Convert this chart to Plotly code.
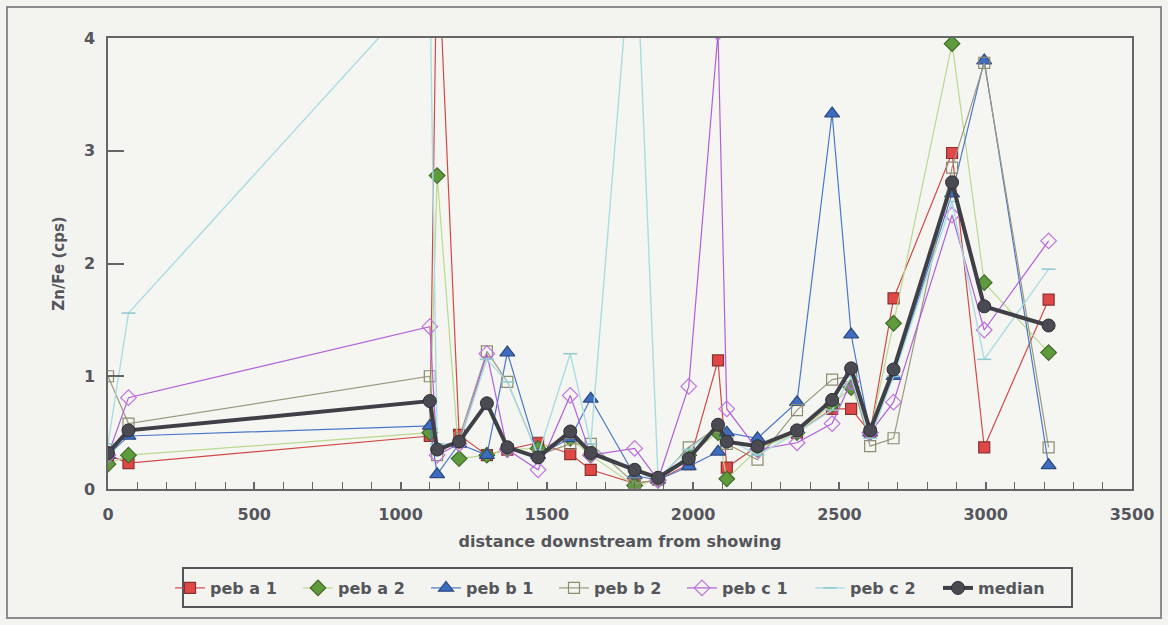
import plotly.graph_objects as go

# Sampling distances (m downstream from the showing)
distance = [0, 70, 1100, 1125, 1200, 1295, 1365, 1470, 1580, 1650, 1800, 1880,
            1985, 2085, 2115, 2220, 2355, 2475, 2540, 2605, 2685, 2885, 2995, 3215]

# Zn/Fe ratios (cps) per pebble fraction
peb_a1 = [0.30, 0.23, 0.47, 5.00, 0.48, 0.30, 0.35, 0.41, 0.31, 0.17, 0.05, 0.08,
          0.22, 1.14, 0.19, 0.38, 0.50, 0.71, 0.71, 0.50, 1.69, 2.98, 0.37, 1.68]
peb_a2 = [0.22, 0.30, 0.50, 2.78, 0.27, 0.30, 0.35, 0.36, 0.45, 0.30, 0.03, 0.08,
          0.30, 0.50, 0.09, 0.35, 0.50, 0.75, 0.90, 0.50, 1.47, 3.95, 1.83, 1.21]
peb_b1 = [0.30, 0.47, 0.56, 0.13, 0.40, 0.30, 1.21, 0.30, 0.45, 0.80, 0.12, 0.08,
          0.20, 0.33, 0.50, 0.45, 0.77, 3.33, 1.37, 0.50, 1.00, 2.62, 3.80, 0.21]
peb_b2 = [1.00, 0.58, 1.00, 0.30, 0.45, 1.22, 0.95, 0.30, 0.40, 0.40, 0.05, 0.08,
          0.37, 0.55, 0.40, 0.26, 0.70, 0.97, 1.00, 0.38, 0.45, 2.85, 3.78, 0.37]
peb_c1 = [0.30, 0.81, 1.44, 0.30, 0.40, 1.20, 0.35, 0.17, 0.83, 0.30, 0.36, 0.08,
          0.91, 4.05, 0.71, 0.35, 0.41, 0.58, 0.95, 0.50, 0.77, 2.43, 1.41, 2.20]
peb_c2 = [0.40, 1.56, 4.50, 0.40, 0.40, 1.15, 0.95, 0.30, 1.20, 0.40, 5.20, 0.10,
          0.35, 0.55, 0.45, 0.30, 0.50, 0.70, 1.00, 0.45, 1.00, 2.55, 1.15, 1.95]
median = [0.32, 0.52, 0.78, 0.35, 0.42, 0.76, 0.37, 0.28, 0.51, 0.32, 0.17, 0.10,
          0.27, 0.57, 0.42, 0.38, 0.52, 0.79, 1.07, 0.52, 1.06, 2.72, 1.62, 1.45]

series_names = ["peb a 1", "peb a 2", "peb b 1", "peb b 2", "peb c 1", "peb c 2", "median"]
series_values = [peb_a1, peb_a2, peb_b1, peb_b2, peb_c1, peb_c2, median]

styles = [
    dict(line=dict(color="#d04a4a", width=1.2),
         marker=dict(symbol="square", size=11, color="#e04848",
                     line=dict(color="#8a3030", width=1.2))),
    dict(line=dict(color="#b9d98f", width=1.2),
         marker=dict(symbol="diamond", size=12, color="#5f9a3c",
                     line=dict(color="#3f6a2a", width=1.2))),
    dict(line=dict(color="#4a78c8", width=1.2),
         marker=dict(symbol="triangle-up", size=13, color="#3d6cc0",
                     line=dict(color="#2c4a80", width=1.2))),
    dict(line=dict(color="#9a9a80", width=1.2),
         marker=dict(symbol="square-open", size=11, color="#8c8c72",
                     line=dict(width=1.2))),
    dict(line=dict(color="#b060d8", width=1.2),
         marker=dict(symbol="diamond-open", size=12, color="#c070e0",
                     line=dict(width=1.2))),
    dict(line=dict(color="#a9dde2", width=1.4),
         marker=dict(symbol="line-ew", size=10, color="#8fc8cf",
                     line=dict(color="#8fc8cf", width=1.5))),
    dict(line=dict(color="#3f3f47", width=4),
         marker=dict(symbol="circle", size=13, color="#4a4a52",
                     line=dict(color="#2f2f35", width=1))),
]

fig = go.Figure()
for name, vals, st in zip(series_names, series_values, styles):
    fig.add_trace(go.Scatter(x=distance, y=vals, name=name, mode="lines+markers",
                             line=st["line"], marker=st["marker"], cliponaxis=True))

font_family = "DejaVu Sans, Verdana, sans-serif"
grey = "#55555c"

# plot area spans 108..1132 px horizontally and 38..489 px vertically
def px_x(p):
    return (p - 108) / 1024.0

def px_y(p):
    return (489 - p) / 451.0

fig.update_layout(
    width=1168, height=625,
    margin=dict(l=108, r=36, t=38, b=136),
    paper_bgcolor="#f3f4ef",
    plot_bgcolor="#f5f6f1",
    font=dict(family=font_family, size=16, color=grey, weight="bold"),
    showlegend=True,
    legend=dict(
        orientation="h", x=px_x(170), y=px_y(588), xanchor="left", yanchor="middle",
        bgcolor="rgba(0,0,0,0)", borderwidth=0,
        font=dict(family=font_family, size=16, color=grey, weight="bold"),
        itemwidth=30, entrywidth=83, entrywidthmode="pixels",
        tracegroupgap=0,
    ),
    shapes=[
        # outer chart border
        dict(type="rect", xref="paper", yref="paper",
             x0=px_x(7), x1=px_x(1161), y0=px_y(618), y1=px_y(7),
             line=dict(color="#8c8c90", width=2), fillcolor="rgba(0,0,0,0)",
             layer="below"),
        # legend box
        dict(type="rect", xref="paper", yref="paper",
             x0=px_x(183), x1=px_x(1072), y0=px_y(607), y1=px_y(568),
             line=dict(color="#55555c", width=2), fillcolor="rgba(0,0,0,0)",
             layer="below"),
    ],
)

fig.update_xaxes(
    range=[0, 3500], tick0=0, dtick=500, ticks="inside", ticklen=7, tickwidth=1.5,
    tickcolor="#666", showgrid=False, zeroline=False,
    showline=True, linecolor="#666", linewidth=1.5, mirror=True,
    minor=dict(dtick=100, ticks="inside", ticklen=7, tickcolor="#666", tickwidth=1.2),
    ticklabelstandoff=10,
    title=dict(text="distance downstream from showing", standoff=13,
               font=dict(size=16, color=grey, weight="bold")),
    tickfont=dict(size=16, color=grey, weight="bold"),
)
fig.update_yaxes(
    range=[0, 4], tick0=0, dtick=1, ticks="inside", ticklen=16, tickwidth=1.5,
    tickcolor="#666", showgrid=False, zeroline=False,
    showline=True, linecolor="#666", linewidth=1.5, mirror=True,
    ticklabelstandoff=8,
    title=dict(text="Zn/Fe (cps)", standoff=16,
               font=dict(size=15, color=grey, weight="bold")),
    tickfont=dict(size=16, color=grey, weight="bold"),
)

fig.write_html("out.html")
